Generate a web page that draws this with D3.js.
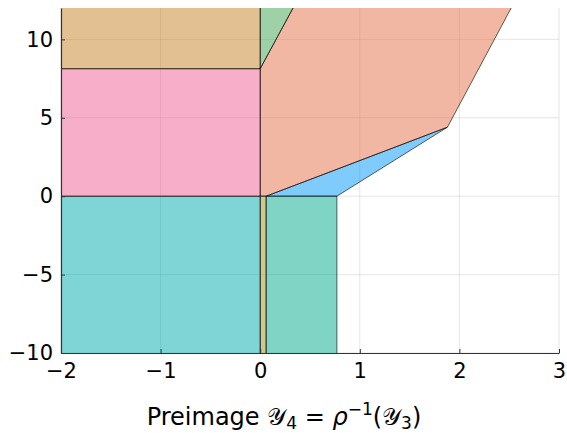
<!DOCTYPE html>
<html>
<head>
<meta charset="utf-8">
<script src="https://cdn.jsdelivr.net/npm/d3@7"></script>
<style>
  html, body { margin: 0; padding: 0; background: #fff; }
  svg { display: block; }
  text { font-family: "DejaVu Sans", sans-serif; fill: #000; }
</style>
</head>
<body>
<svg id="chart" width="567" height="433"></svg>
<script>
// Axis limits and ticks
const xDomain = [-2, 3];
const yDomain = [-10, 12];
const xTicks = [-2, -1, 0, 1, 2, 3];
const yTicks = [-10, -5, 0, 5, 10];

// Series colours (Plots.jl default palette), drawn at half opacity
const seriesColors = ["#009AFA", "#E36F47", "#3EA44E", "#AC8E18", "#00AAAE", "#ED5E93", "#C68225", "#00A98D"];

// Polygon vertices of each preimage piece (unbounded pieces are cut off by the clip)
const pieceBlue   = [[0.06, 0], [0.77, 0], [1.88, 4.4]];
const pieceSalmon = [[0, 0], [0.06, 0], [1.88, 4.4], [2.604, 13], [0.415, 13], [0, 8.13]];
const pieceGreen  = [[0, 8.13], [0.415, 13], [0, 13]];
const pieceOlive  = [[0, -11], [0.06, -11], [0.06, 0], [0, 0]];
const pieceTeal   = [[-2.5, -11], [0, -11], [0, 0], [-2.5, 0]];
const piecePink   = [[-2.5, 0], [0, 0], [0, 8.13], [-2.5, 8.13]];
const pieceTan    = [[-2.5, 8.13], [0, 8.13], [0, 13], [-2.5, 13]];
const pieceSea    = [[0.06, -11], [0.77, -11], [0.77, 0], [0.06, 0]];

const pieces = [pieceBlue, pieceSalmon, pieceGreen, pieceOlive, pieceTeal, piecePink, pieceTan, pieceSea];

const svg = d3.select("#chart");
const plotL = 61, plotR = 559, plotT = 8, plotB = 353;

const x = d3.scaleLinear().domain(xDomain).range([plotL, plotR]);
const y = d3.scaleLinear().domain(yDomain).range([plotB, plotT]);

const fmt = v => (v < 0 ? "\u2212" + Math.abs(v) : String(v));

svg.append("defs").append("clipPath").attr("id", "plotClip")
  .append("rect").attr("x", plotL).attr("y", plotT)
  .attr("width", plotR - plotL).attr("height", plotB - plotT);

// Grid
const grid = svg.append("g");
grid.selectAll(".gx").data(xTicks).join("line")
  .attr("x1", d => x(d)).attr("x2", d => x(d))
  .attr("y1", plotT).attr("y2", plotB)
  .attr("stroke", "#000").attr("stroke-opacity", 0.1).attr("stroke-width", 1);
grid.selectAll(".gy").data(yTicks).join("line")
  .attr("x1", plotL).attr("x2", plotR)
  .attr("y1", d => y(d)).attr("y2", d => y(d))
  .attr("stroke", "#000").attr("stroke-opacity", 0.1).attr("stroke-width", 1);

// Polygons
const line = d3.line().x(d => x(d[0])).y(d => y(d[1]));
svg.append("g").attr("clip-path", "url(#plotClip)")
  .selectAll("path").data(pieces).join("path")
  .attr("d", d => line(d) + "Z")
  .attr("fill", (d, i) => seriesColors[i])
  .attr("fill-opacity", 0.5)
  .attr("stroke", "#000")
  .attr("stroke-opacity", 0.6)
  .attr("stroke-width", 1)
  .attr("stroke-linejoin", "round");

// Axes
const xAxis = d3.axisBottom(x).tickValues(xTicks).tickFormat(fmt).tickSizeInner(-4).tickSizeOuter(0).tickPadding(10);
const yAxis = d3.axisLeft(y).tickValues(yTicks).tickFormat(fmt).tickSizeInner(-4).tickSizeOuter(0).tickPadding(8);

const gx = svg.append("g").attr("transform", `translate(0,${plotB})`).call(xAxis);
const gy = svg.append("g").attr("transform", `translate(${plotL},0)`).call(yAxis);
[gx, gy].forEach(g => {
  g.select(".domain").attr("stroke", "#333").attr("stroke-width", 1.2);
  g.selectAll(".tick line").attr("stroke", "#333").attr("stroke-width", 1);
  g.selectAll(".tick text").attr("font-size", 21).attr("font-family", "DejaVu Sans").attr("fill", "#000");
});

// X label
const lab = svg.append("text").attr("x", 284).attr("y", 425)
  .attr("text-anchor", "middle").attr("font-size", 24);
lab.append("tspan").text("Preimage ");
lab.append("tspan").text("\uD835\uDCB4");
lab.append("tspan").attr("font-size", 17).attr("dy", 4).text("4");
lab.append("tspan").attr("dy", -4).text(" = ");
lab.append("tspan").attr("font-style", "italic").text("\u03C1");
lab.append("tspan").attr("font-size", 17).attr("dy", -10).text("\u22121");
lab.append("tspan").attr("dy", 10).text("(");
lab.append("tspan").text("\uD835\uDCB4");
lab.append("tspan").attr("font-size", 17).attr("dy", 4).text("3");
lab.append("tspan").attr("dy", -4).text(")");
</script>
</body>
</html>
